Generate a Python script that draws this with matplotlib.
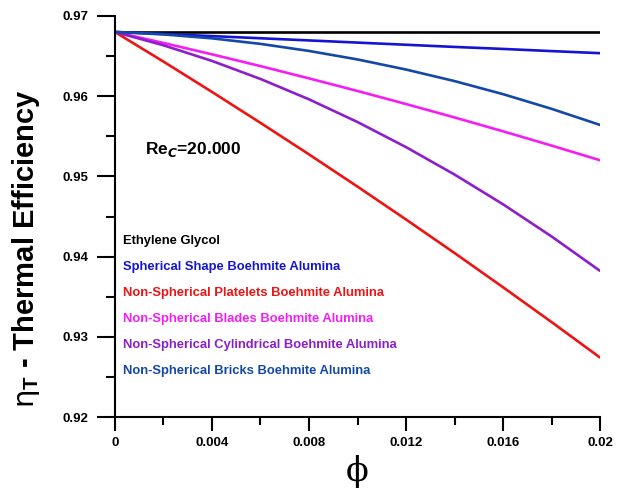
import matplotlib
matplotlib.use('Agg')
import matplotlib.pyplot as plt
from matplotlib.ticker import MultipleLocator

plt.rcParams['font.family'] = ['Liberation Sans', 'DejaVu Sans']
plt.rcParams['font.weight'] = 'bold'
plt.rcParams['mathtext.fontset'] = 'custom'
plt.rcParams['mathtext.rm'] = 'DejaVu Sans:normal'
plt.rcParams['mathtext.it'] = 'DejaVu Sans:italic:bold'
plt.rcParams['mathtext.bf'] = 'Liberation Sans:bold'

# 体积分数
phi = [0.0, 0.002, 0.004, 0.006, 0.008, 0.010, 0.012, 0.014, 0.016, 0.018, 0.020]

# 各流体的热效率
eg = [0.968] * 11
spherical = [0.968, 0.96774, 0.96748, 0.96721, 0.96694, 0.96667, 0.9664, 0.96613, 0.96588, 0.96561, 0.96535]
platelets = [0.968, 0.96431, 0.96053, 0.95667, 0.95274, 0.94872, 0.94462, 0.94044, 0.93617, 0.93183, 0.9274]
blades = [0.968, 0.96663, 0.96521, 0.96374, 0.96221, 0.96064, 0.95901, 0.95734, 0.95561, 0.95383, 0.952]
cylindrical = [0.968, 0.96634, 0.96439, 0.96214, 0.9596, 0.95677, 0.95364, 0.95022, 0.94651, 0.9425, 0.9382]
bricks = [0.968, 0.96769, 0.9672, 0.96651, 0.96563, 0.96457, 0.96331, 0.96187, 0.96024, 0.95841, 0.9564]

names = ['Ethylene Glycol',
         'Spherical Shape Boehmite Alumina',
         'Non-Spherical Platelets Boehmite Alumina',
         'Non-Spherical Blades Boehmite Alumina',
         'Non-Spherical Cylindrical Boehmite Alumina',
         'Non-Spherical Bricks Boehmite Alumina']
series = [eg, spherical, platelets, blades, cylindrical, bricks]
colors = ['#000000', '#1414D2', '#EE1414', '#F41EF4', '#8C1ECC', '#1448A8']

fig = plt.figure(figsize=(6.24, 4.96), dpi=100)
ax = fig.add_axes([0.184, 0.159, 0.778, 0.809])

for y, c in zip(series, colors):
    ax.plot(phi, y, color=c, linewidth=1.9, solid_capstyle='butt')

# 图例（彩色文字）
for i, (name, c) in enumerate(zip(names, colors)):
    ax.text(0.016, 0.439 - i * 0.0648, name, color=c, fontsize=9.4, fontweight='bold',
            transform=ax.transAxes, va='center', ha='left')

ax.text(0.062, 0.668, r'Re$_C$=20.000', fontsize=12.5, fontweight='bold',
        transform=ax.transAxes, va='center', ha='left')

ax.set_xlim(0, 0.02)
ax.set_ylim(0.92, 0.97)
ax.spines['top'].set_visible(False)
ax.spines['right'].set_visible(False)
ax.spines['left'].set_linewidth(1.5)
ax.spines['bottom'].set_linewidth(1.5)

ax.xaxis.set_minor_locator(MultipleLocator(0.002))
ax.yaxis.set_minor_locator(MultipleLocator(0.005))
ax.set_xticks([0, 0.004, 0.008, 0.012, 0.016, 0.02])
ax.set_xticklabels(['0', '0.004', '0.008', '0.012', '0.016', '0.02'])
ax.set_yticks([0.92, 0.93, 0.94, 0.95, 0.96, 0.97])
ax.set_yticklabels(['0.92', '0.93', '0.94', '0.95', '0.96', '0.97'])

ax.tick_params(axis='x', which='major', length=10, width=1.5, pad=4, labelsize=9.5)
ax.tick_params(axis='x', which='minor', length=6, width=1.5)
ax.tick_params(axis='y', which='major', length=13, width=1.5, pad=6, labelsize=9.5)
ax.tick_params(axis='y', which='minor', length=6.5, width=1.5)
for lab in ax.get_xticklabels() + ax.get_yticklabels():
    lab.set_fontweight('bold')

ax.set_ylabel(r'$\mathrm{\eta}_{\mathbf{T}}$ - Thermal Efficiency', fontsize=21, fontweight='bold')
ax.yaxis.set_label_coords(-0.15, 0.42)
ax.set_xlabel('ϕ', fontsize=24, fontweight='normal', family=['DejaVu Serif'])
ax.xaxis.set_label_coords(0.5, -0.095)

fig.savefig('out.png', dpi=100)
